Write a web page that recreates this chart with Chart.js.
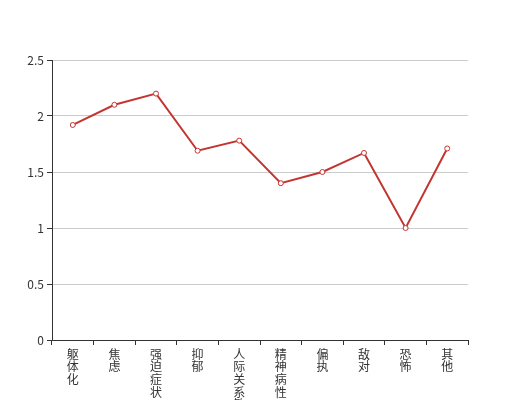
<!DOCTYPE html>
<html lang="zh">
<head>
  <meta charset="UTF-8" />
  <title>因子均分</title>
  <script src="https://cdn.jsdelivr.net/npm/chart.js"></script>
  <style>
    html, body { margin: 0; padding: 0; background: #fff; }
    #wrap { width: 520px; height: 400px; }
  </style>
</head>
<body>
  <div id="wrap"><canvas id="myChart" width="520" height="400"></canvas></div>
  <script>
    const categories = ["躯体化", "焦虑", "强迫症状", "抑郁", "人际关系敏感", "精神病性", "偏执", "敌对", "恐怖", "其他"];
    const scores = [1.92, 2.1, 2.2, 1.69, 1.78, 1.4, 1.5, 1.67, 1.0, 1.71];
    const yTicks = [0, 0.5, 1, 1.5, 2, 2.5];

    // vertical labels: one character per line
    const labels = categories.map((c) => c.split(""));

    const font = { family: "'Noto Sans CJK SC', 'Noto Sans', sans-serif", size: 12 };

    const ctx = document.getElementById("myChart").getContext("2d");
    const myChart = new Chart(ctx, {
      type: "line",
      data: {
        labels: labels,
        datasets: [
          {
            data: scores,
            borderColor: "#c23531",
            borderWidth: 2,
            backgroundColor: "#fff",
            pointBackgroundColor: "#fff",
            pointBorderColor: "#c23531",
            pointBorderWidth: 1,
            pointRadius: 2.5,
            fill: false,
            tension: 0,
          },
        ],
      },
      options: {
        responsive: false,
        animation: false,
        layout: { padding: { top: 60, right: 52, left: 0, bottom: 0 } },
        plugins: { legend: { display: false }, tooltip: { enabled: false } },
        scales: {
          x: {
            offset: true,
            grid: {
              offset: true,
              drawOnChartArea: false,
              drawTicks: true,
              tickLength: 5,
              tickColor: "#333",
            },
            border: { display: true, color: "#333", width: 1 },
            ticks: {
              color: "#333",
              font: Object.assign({ lineHeight: 1.05 }, font),
              maxRotation: 0,
              minRotation: 0,
              autoSkip: false,
              padding: 3,
            },
            afterFit: (s) => { s.height = 60; },
          },
          y: {
            min: 0,
            max: 2.5,
            afterBuildTicks: (s) => { s.ticks = yTicks.map((v) => ({ value: v })); },
            grid: {
              color: (c) => (c.tick && c.tick.value === 0 ? "rgba(0,0,0,0)" : "#ccc"),
              tickColor: "#333",
              tickLength: 5,
              drawTicks: true,
            },
            border: { display: true, color: "#333", width: 1 },
            ticks: { color: "#333", font: font, padding: 3, callback: (v) => String(v) },
            afterFit: (s) => { s.width = 52; },
          },
        },
      },
    });
  </script>
</body>
</html>
